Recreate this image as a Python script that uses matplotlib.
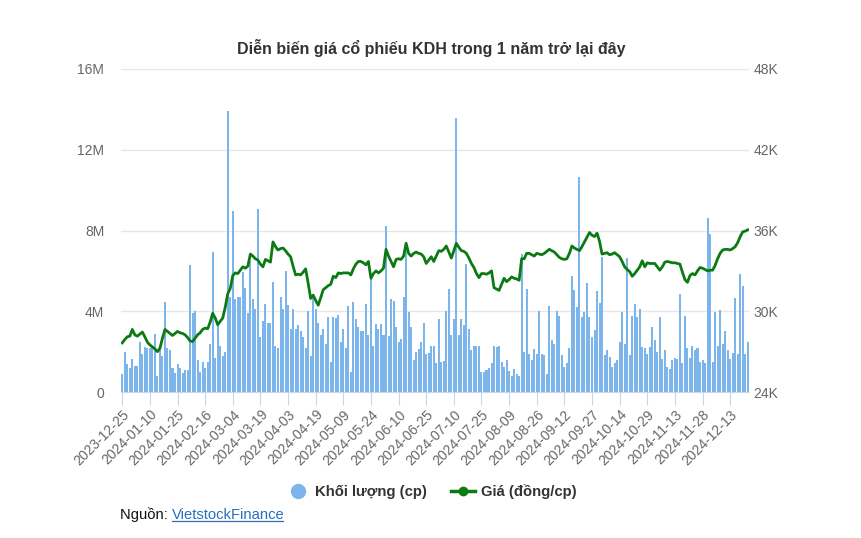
import numpy as np
import matplotlib
matplotlib.use("Agg")
import matplotlib.pyplot as plt
from matplotlib.lines import Line2D
from matplotlib.ticker import FuncFormatter

plt.rcParams['font.family'] = ['Liberation Sans', 'DejaVu Sans']

title = "Diễn biến giá cổ phiếu KDH trong 1 năm trở lại đây"
source_label = "Nguồn: "
source_link = "VietstockFinance"
vol_name = "Khối lượng (cp)"
price_name = "Giá (đồng/cp)"

# nhãn trục x (mỗi 11 phiên)
tick_labels = ["2023-12-25", "2024-01-10", "2024-01-25", "2024-02-16", "2024-03-04",
               "2024-03-19", "2024-04-03", "2024-04-19", "2024-05-09", "2024-05-24",
               "2024-06-10", "2024-06-25", "2024-07-10", "2024-07-25", "2024-08-09",
               "2024-08-26", "2024-09-12", "2024-09-27", "2024-10-14", "2024-10-29",
               "2024-11-13", "2024-11-28", "2024-12-13"]

# khối lượng (triệu cp)
volume_m = [
    0.9, 2.0, 1.4, 1.2, 1.65, 1.3, 1.3, 2.5, 1.9, 2.25,
    2.2, 2.2, 2.3, 2.85, 0.8, 2.2, 1.8, 4.45, 2.2, 2.1,
    1.2, 0.95, 1.4, 1.2, 0.95, 1.1, 1.1, 6.3, 3.9, 4.0,
    1.6, 1.0, 1.5, 1.2, 1.5, 2.4, 6.95, 1.7, 3.4, 2.3,
    1.8, 2.0, 13.9, 4.7, 8.95, 4.6, 4.7, 4.7, 5.95, 5.15,
    3.9, 6.5, 4.6, 4.1, 9.05, 2.7, 3.5, 4.35, 3.4, 3.4,
    5.45, 2.3, 2.2, 4.7, 4.1, 6.0, 4.3, 3.1, 4.1, 3.1,
    3.3, 3.0, 2.7, 2.2, 4.0, 1.8, 4.8, 4.1, 3.4, 2.8,
    3.1, 2.4, 3.7, 1.5, 3.7, 3.65, 3.8, 2.5, 3.1, 2.2,
    4.25, 1.0, 4.45, 3.6, 3.2, 3.0, 3.0, 4.35, 2.8, 5.75,
    2.3, 3.35, 3.1, 3.35, 2.8, 8.2, 2.75, 4.6, 4.5, 3.2,
    2.5, 2.65, 4.7, 7.45, 3.95, 3.2, 1.6, 2.0, 2.15, 2.5,
    3.4, 1.9, 1.95, 2.3, 2.3, 1.45, 3.6, 1.5, 1.55, 4.0,
    5.1, 2.8, 3.6, 13.55, 2.8, 3.6, 3.3, 6.35, 3.1, 2.1,
    2.3, 2.3, 2.3, 1.0, 1.0, 1.1, 1.2, 1.45, 2.3, 2.25,
    2.3, 1.5, 1.25, 1.6, 1.05, 0.8, 1.15, 0.9, 0.8, 6.85,
    2.0, 5.1, 1.9, 1.6, 2.15, 1.9, 4.0, 1.9, 1.85, 0.9,
    4.25, 2.6, 2.4, 4.0, 3.75, 1.85, 1.25, 1.45, 2.2, 5.75,
    5.05, 4.2, 10.65, 3.7, 3.95, 5.4, 3.7, 2.7, 3.05, 5.0,
    4.4, 6.7, 1.85, 2.1, 1.75, 1.25, 1.45, 1.6, 2.5, 3.95,
    2.4, 6.65, 1.85, 3.75, 4.35, 3.7, 4.1, 2.25, 2.2, 1.9,
    2.25, 3.2, 2.6, 2.0, 3.7, 1.65, 2.1, 1.25, 1.15, 1.6,
    1.7, 1.65, 4.85, 1.45, 3.75, 2.2, 1.7, 2.3, 2.1, 2.2,
    1.5, 1.6, 1.45, 8.6, 7.85, 1.5, 3.95, 2.3, 4.05, 2.4,
    3.0, 2.1, 1.65, 1.95, 4.65, 1.9, 5.85, 5.25, 1.9, 2.5,
]

# giá đóng cửa (đồng/cp)
price = [
    27650, 27900, 28100, 28150, 28650, 28250, 28150, 28300, 28450, 28100,
    27700, 27500, 27350, 27200, 27000, 27250, 28000, 28650, 28500, 28350,
    28200, 28350, 28500, 28400, 28350, 28250, 28050, 27800, 27750, 28000,
    28250, 28400, 28650, 28750, 28700, 29200, 29850, 29500, 29000, 29250,
    29500, 30300, 31300, 31700, 32650, 32850, 32800, 33050, 33300, 33200,
    33350, 34250, 34100, 33900, 33800, 33500, 33300, 33850, 33750, 33650,
    35150, 34800, 34550, 34650, 34700, 34500, 34250, 34050, 33350, 32700,
    32750, 32700, 32900, 33150, 32100, 30950, 31200, 30800, 30450, 31000,
    31600, 31750, 31900, 32000, 32600, 32500, 32850, 32800, 32850, 32850,
    32850, 32700, 33150, 33500, 33700, 33700, 33600, 33450, 33700, 32450,
    32800, 33000, 32850, 33000, 33200, 34600, 34100, 33700, 33300, 33850,
    33900, 33850, 34100, 35050, 34300, 34100, 34300, 34400, 34300, 34250,
    34050, 33550, 33800, 34050, 33700, 34100, 34500, 34450, 34600, 34850,
    34400, 33950, 34500, 35050, 34750, 34500, 34450, 34300, 33950, 33550,
    33250, 32800, 32500, 32800, 32800, 32750, 32850, 33000, 31750, 31650,
    31550, 32000, 32450, 32200, 32350, 32550, 32450, 32400, 32300, 33900,
    33900, 34300, 34300, 34200, 34100, 34300, 34250, 34200, 34300, 34450,
    34600, 34500, 34400, 34200, 34000, 33900, 33850, 33900, 34300, 34850,
    34700, 34600, 34500, 34800, 35150, 35500, 35850, 35650, 35550, 35800,
    35200, 34250, 34300, 34350, 34200, 34250, 34350, 34200, 34050, 33700,
    33300, 33100, 32950, 32600, 32800, 33050, 33300, 33750, 33300, 33600,
    33550, 33550, 33550, 33300, 33050, 33300, 33650, 33700, 33650, 33600,
    33600, 33550, 33500, 32900, 32350, 32150, 32650, 32800, 32700, 33000,
    33250, 33200, 33100, 33000, 33050, 33050, 33400, 33900, 34300, 34550,
    34600, 34600, 34550, 34650, 34800, 35100, 35550, 35900, 35950, 36050,
]

vol_color = '#7cb5ec'
price_color = '#0b7a12'
grey = '#666666'

x = np.arange(len(price))
volume = np.array(volume_m) * 1e6

fig = plt.figure(figsize=(8.62, 5.38), dpi=100)
ax = fig.add_axes([121/862, 1 - 392/538, 628/862, 323/538])
ax2 = ax.twinx()

ax.bar(x, volume, width=0.8, color=vol_color, linewidth=0)
ax2.plot(x, price, color=price_color, lw=2.0, solid_joinstyle='round')

ax.set_xlim(-0.5, len(x) - 0.5)
ax.set_ylim(0, 16e6)
ax.set_yticks(np.arange(0, 16e6 + 1, 4e6))
ax.yaxis.set_major_formatter(FuncFormatter(lambda v, p: "0" if v == 0 else f"{v/1e6:.0f}M"))
ax2.set_ylim(24000, 48000)
ax2.set_yticks(np.arange(24000, 48001, 6000))
ax2.yaxis.set_major_formatter(FuncFormatter(lambda v, p: f"{v/1000:.0f}K"))

ax.set_xticks(np.arange(0, len(tick_labels) * 11, 11))
ax.set_xticklabels(tick_labels, rotation=45, ha='right', rotation_mode='anchor')

ax.grid(axis='y', color='#e6e6e6', lw=1)
ax.set_axisbelow(True)
for a in (ax, ax2):
    for s in ('top', 'left', 'right', 'bottom'):
        a.spines[s].set_visible(False)
ax.spines['bottom'].set_visible(True)
ax.spines['bottom'].set_color('#ccd6eb')

ax.tick_params(axis='y', length=0, pad=12, labelsize=10, labelcolor=grey)
ax2.tick_params(axis='y', length=0, pad=3, labelsize=10, labelcolor=grey)
ax.tick_params(axis='x', length=9, color='#ccd6eb', pad=2, labelsize=10, labelcolor=grey)

fig.text(0.5, 1 - 48/538, title, ha='center', va='center',
         fontsize=11.5, fontweight='bold', color='#333333')

handles = [Line2D([], [], ls='none', marker='o', ms=10, color=vol_color),
           Line2D([], [], color=price_color, lw=2.5, marker='o', ms=6)]
fig.legend(handles, [vol_name, price_name], loc='center', bbox_to_anchor=(0.5, 1 - 492/538),
           ncol=2, frameon=False, prop={'weight': 'bold', 'size': 10.7},
           labelcolor='#333333', handlelength=1.6, columnspacing=1.6, handletextpad=0.4)

t1 = fig.text(120/862, 1 - 515/538, source_label, ha='left', va='center',
              fontsize=10.6, color='#111111')
t2 = ax.annotate(source_link, xy=(1, 0), xycoords=t1, va='bottom', ha='left',
                 fontsize=10.6, color='#2a6ebb', annotation_clip=False)
fig.canvas.draw()
bb = t2.get_window_extent()
fig.add_artist(Line2D([bb.x0 / fig.bbox.width, (bb.x1 - 2) / fig.bbox.width],
                      [(bb.y0 + 1) / fig.bbox.height] * 2, color='#2a6ebb', lw=0.9))

fig.savefig('out.png', dpi=100)
